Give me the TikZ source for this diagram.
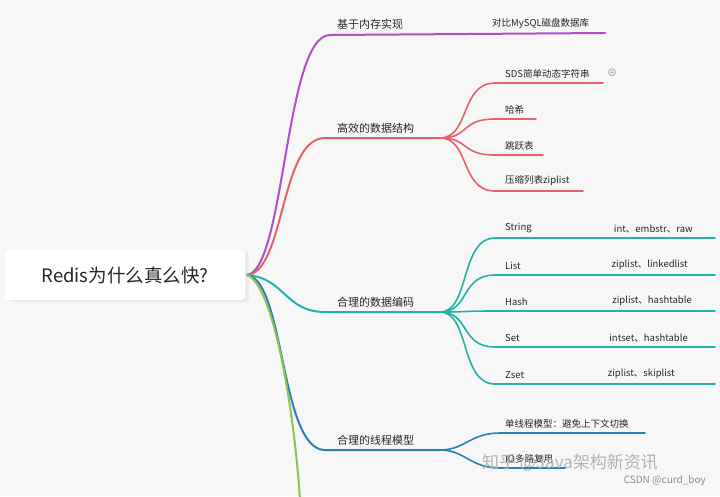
\documentclass[tikz,border=0pt]{standalone}
\usepackage{fontspec}
\setmainfont{Noto Sans CJK SC}
\begin{document}
\begin{tikzpicture}[x=1pt,y=-1pt,
  br/.style={line width=2pt,line cap=round},
  lf/.style={line width=1.6pt,line cap=round},
  lab/.style={font=\fontsize{11}{12}\selectfont,inner sep=0pt,text=black!85},
  slab/.style={font=\fontsize{9.5}{11}\selectfont,inner sep=0pt,text=black!85}]
\definecolor{pur}{HTML}{B04FC8}\definecolor{red1}{HTML}{E8606A}
\definecolor{teal1}{HTML}{22B2AA}\definecolor{blu}{HTML}{2A7FB8}
\definecolor{grn}{HTML}{8CC44C}
\fill[black!3] (0,0) rectangle (720,496);
\useasboundingbox (0,0) rectangle (720,496);
\fill[black!8,rounded corners=4pt] (9,252) rectangle (249,302);
\node[fill=white,rounded corners=4pt,minimum width=240pt,minimum height=50pt,inner sep=0pt,font=\fontsize{18.5}{22}\selectfont,text=black!85] (root) at (125,275) {Redis为什么真么快?};
\coordinate (r) at (247,275);
% purple
\coordinate (p1) at (330,35);\coordinate (p2) at (605,33);
\draw[pur,br] (r) .. controls (285,270) and (285,35) .. (p1) -- (p2);
\node[lab,anchor=south west] (n1) at (337,30) {基于内存实现};
\node[slab,anchor=south west] (n11) at (492,29) {对比MySQL磁盘数据库};
% red
\coordinate (q1) at (440,138);
\draw[red1,br] (r) .. controls (285,272) and (280,138) .. (325,138) -- (q1);
\node[lab,anchor=south west] (n2) at (337,134) {高效的数据结构};
\foreach \y/\e/\t [count=\i] in {83/603/SDS简单动态字符串,119/536/哈希,155/543/跳跃表,191/583/压缩列表ziplist}{
  \coordinate (a\i) at (\e,\y);
  \draw[red1,lf] (q1) .. controls (470,138) and (460,\y) .. (495,\y) -- (a\i);
  \node[slab,anchor=south west] (t\i) at (505,\y-5) {\t};
}
\node[text=black!40,inner sep=0pt,font=\fontsize{10}{10}\selectfont] (plus) at (612,73) {⊕};
% teal
\coordinate (s1) at (440,312);
\draw[teal1,br] (r) .. controls (285,278) and (285,312) .. (325,312) -- (s1);
\node[lab,anchor=south west] (n3) at (337,308) {合理的数据编码};
\foreach \y/\t/\v/\x [count=\i] in {238/String/int、embstr、raw/693,275/List/ziplist、linkedlist/688,311/Hash/ziplist、hashtable/692,347/Set/intset、hashtable/688,384/Zset/ziplist、skiplist/675}{
  \coordinate (b\i) at (715,\y);
  \draw[teal1,lf] (s1) .. controls (470,312) and (460,\y) .. (495,\y) -- (b\i);
  \node[slab,anchor=south west] (u\i) at (505,\y-5) {\t};
  \node[slab,anchor=south east] (v\i) at (\x,\y-5) {\v};
}
% blue
\coordinate (w1) at (440,450);
\draw[blu,br] (r) .. controls (285,280) and (280,450) .. (325,450) -- (w1);
\node[lab,anchor=south west] (n4) at (337,446) {合理的线程模型};
\coordinate (c1) at (645,433);\coordinate (c2) at (565,468);
\draw[blu,lf] (w1) .. controls (465,450) and (470,433) .. (500,433) -- (c1);
\draw[blu,lf] (w1) .. controls (465,450) and (470,468) .. (500,468) -- (c2);
\node[slab,anchor=south west] (x1) at (505,428) {单线程模型：避免上下文切换};
\node[slab,anchor=south west] (x2) at (505,463) {IO多路复用};
% green
\coordinate (g1) at (300,500);
\draw[grn,br] (r) .. controls (275,285) and (295,420) .. (g1);
% watermarks
\node[text=black!30,inner sep=0pt,font=\fontsize{17}{18}\selectfont,anchor=west] (wm1) at (482,463) {知乎 @Java架构新资讯};
\node[text=black!45,inner sep=0pt,font=\fontsize{10}{11}\selectfont,anchor=east] (wm2) at (706,481) {CSDN @curd\_boy};
\end{tikzpicture}
\end{document}
